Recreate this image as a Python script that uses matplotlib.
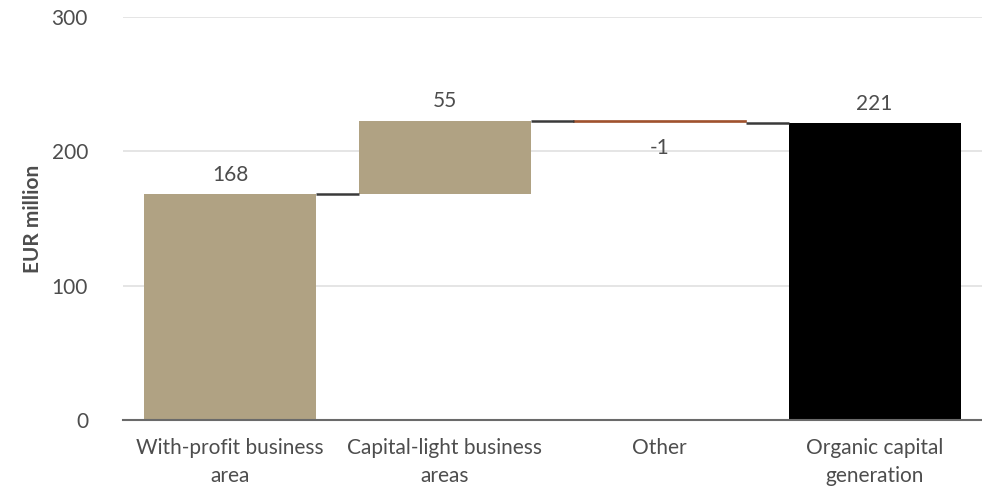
import numpy as np
import matplotlib.pyplot as plt

plt.rcParams['font.family'] = ['Lato', 'DejaVu Sans']

# waterfall inputs
categories = ["With-profit business\narea", "Capital-light business\nareas", "Other",
              "Organic capital\ngeneration"]
steps = [168, 55, -1]
total = 221
labels = ["168", "55", "-1", "221"]

tan = "#B0A283"
brown = "#A0522D"
grey_txt = "#4d4d4d"

fig, ax = plt.subplots(figsize=(9.82, 4.86), dpi=100)
fig.subplots_adjust(left=0.125, right=1.0, top=0.965, bottom=0.135)

x = np.arange(len(categories))
w = 0.8

# running totals for the step bars
ends = np.cumsum(steps)
starts = ends - np.array(steps)

for i, (s, v) in enumerate(zip(starts, steps)):
    if v >= 0:
        ax.bar(x[i], v, bottom=s, width=w, color=tan, zorder=3)
    else:
        ax.bar(x[i], v, bottom=s, width=w, color=brown, edgecolor=brown,
               linewidth=1.2, zorder=3)
ax.bar(x[-1], total, width=w, color="black", zorder=3)

# connector lines between bars
levels = list(ends[:-1]) + [total]
for i, lvl in enumerate(levels):
    ax.plot([x[i] + w / 2, x[i + 1] - w / 2], [lvl, lvl], color="#3a3a3a",
            linewidth=1.8, zorder=4, solid_capstyle="butt")

# value labels
tops = list(ends) + [total]
for i, (t, lab) in enumerate(zip(tops, labels)):
    v = steps[i] if i < len(steps) else total
    if v >= 0:
        ax.text(x[i], t + 7, lab, ha="center", va="bottom", fontsize=15, color=grey_txt)
    else:
        ax.text(x[i], t - 12, lab, ha="center", va="top", fontsize=15, color=grey_txt)

ax.set_xlim(-0.5, 3.5)
ax.set_ylim(0, 300)
ax.set_yticks([0, 100, 200, 300])
ax.set_xticks(x)
ax.set_xticklabels(categories, linespacing=1.45)
ax.tick_params(axis="both", length=0, labelsize=15, labelcolor=grey_txt)
ax.tick_params(axis="y", pad=25)
ax.tick_params(axis="x", pad=13)
ax.grid(axis="y", color="#e0e0e0", linewidth=1.2, zorder=0)
for sp in ["top", "right", "left"]:
    ax.spines[sp].set_visible(False)
ax.spines["bottom"].set_color("#6a6a6a")
ax.spines["bottom"].set_linewidth(1.5)
ax.spines["bottom"].set_zorder(5)

ax.set_ylabel("EUR million", fontsize=15, fontweight="bold", color=grey_txt, labelpad=6)

fig.savefig("out.png", dpi=100)
